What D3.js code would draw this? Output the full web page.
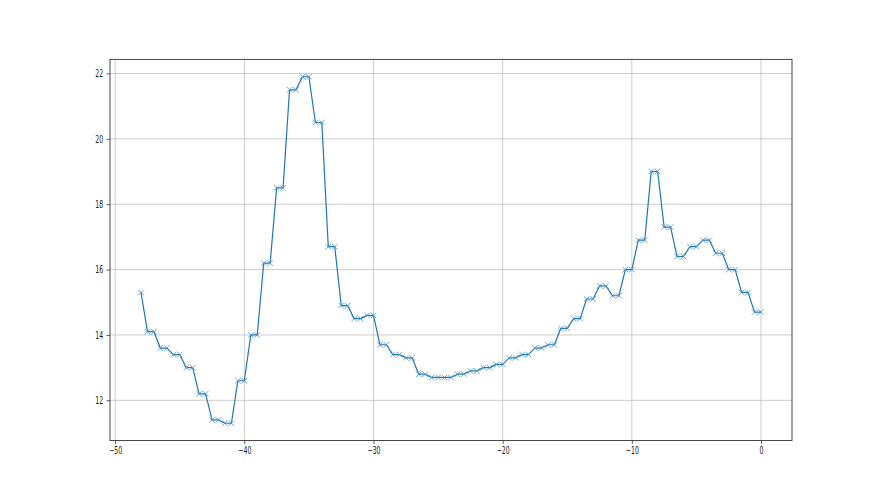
<!DOCTYPE html>
<html><head><meta charset="utf-8">
<script src="https://cdn.jsdelivr.net/npm/d3@7"></script>
<style>body{margin:0;background:#fff}svg{display:block}</style>
</head><body>
<script>
// pair index k: points at x = k-0.5 and x = k share value
const firstX = -48;
const firstY = 15.3;
const pairKeys = [-47,-46,-45,-44,-43,-42,-41,-40,-39,-38,-37,-36,-35,-34,-33,-32,-31,-30,-29,-28,-27,-26,-25,-24,-23,-22,-21,-20,-19,-18,-17,-16,-15,-14,-13,-12,-11,-10,-9,-8,-7,-6,-5,-4,-3,-2,-1,0];
const pairValues = [14.1,13.6,13.4,13.0,12.2,11.4,11.3,12.6,14.0,16.2,18.5,21.5,21.9,20.5,16.7,14.9,14.5,14.6,13.7,13.4,13.3,12.8,12.7,12.7,12.8,12.9,13.0,13.1,13.3,13.4,13.6,13.7,14.2,14.5,15.1,15.5,15.2,16.0,16.9,19.0,17.3,16.4,16.7,16.9,16.5,16.0,15.3,14.7];
const xTicks = [-50,-40,-30,-20,-10,0];
const yTicks = [12,14,16,18,20,22];

const data = [{x:firstX,y:firstY}];
pairKeys.forEach((k,i)=>{data.push({x:k-0.5,y:pairValues[i]});data.push({x:k,y:pairValues[i]});});

const W=880,H=495;
const L=110,R=792,T=59.4,B=440.55;
const svg=d3.select("body").append("svg").attr("width",W).attr("height",H);
const xmin=d3.min(data,d=>d.x), xmax=d3.max(data,d=>d.x);
const ymin=d3.min(data,d=>d.y), ymax=d3.max(data,d=>d.y);
const px=(xmax-xmin)*0.05, py=(ymax-ymin)*0.05;
const x=d3.scaleLinear().domain([xmin-px,xmax+px]).range([L,R]);
const y=d3.scaleLinear().domain([ymin-py,ymax+py]).range([B,T]);
const fmt=d=>String(d).replace("-","\u2212");

// grid
const g=svg.append("g");
g.selectAll(".gx").data(xTicks).join("line").attr("x1",d=>x(d)).attr("x2",d=>x(d)).attr("y1",T).attr("y2",B).attr("stroke","#c0c0c0").attr("stroke-width",0.8);
g.selectAll(".gy").data(yTicks).join("line").attr("y1",d=>y(d)).attr("y2",d=>y(d)).attr("x1",L).attr("x2",R).attr("stroke","#c0c0c0").attr("stroke-width",0.8);

// line
svg.append("path").datum(data).attr("fill","none").attr("stroke","#1f77b4").attr("stroke-width",1.2).attr("stroke-linejoin","round")
 .attr("d",d3.line().x(d=>x(d.x)).y(d=>y(d.y)));
// markers
const s=2.8;
svg.append("g").selectAll("path").data(data).join("path")
 .attr("d",d=>`M${x(d.x)-s},${y(d.y)-s}L${x(d.x)+s},${y(d.y)+s}M${x(d.x)-s},${y(d.y)+s}L${x(d.x)+s},${y(d.y)-s}`)
 .attr("stroke","#4a93c8").attr("stroke-width",0.8).attr("fill","none");

// axes
const xa=svg.append("g").attr("transform",`translate(0,${B})`).call(d3.axisBottom(x).tickValues(xTicks).tickFormat(fmt).tickSize(3.5).tickPadding(3));
const ya=svg.append("g").attr("transform",`translate(${L},0)`).call(d3.axisLeft(y).tickValues(yTicks).tickFormat(fmt).tickSize(3.5).tickPadding(3.5));
[xa,ya].forEach(a=>{a.select(".domain").remove();a.selectAll("line").attr("stroke","#333").attr("stroke-width",0.8);a.selectAll("text").attr("font-family","DejaVu Sans").attr("font-size",10).attr("fill","#222");});
// horizontally condensed labels
xa.selectAll("text").attr("transform",function(){const t=d3.select(this);return `translate(0,${t.attr("y")}) scale(0.62,1) translate(0,${-t.attr("y")})`;});
ya.selectAll("text").attr("transform","translate(-6.5,0) scale(0.62,1) translate(6.5,0)");
// spines
svg.append("rect").attr("x",L).attr("y",T).attr("width",R-L).attr("height",B-T).attr("fill","none").attr("stroke","#333").attr("stroke-width",0.9);
</script>
</body></html>
